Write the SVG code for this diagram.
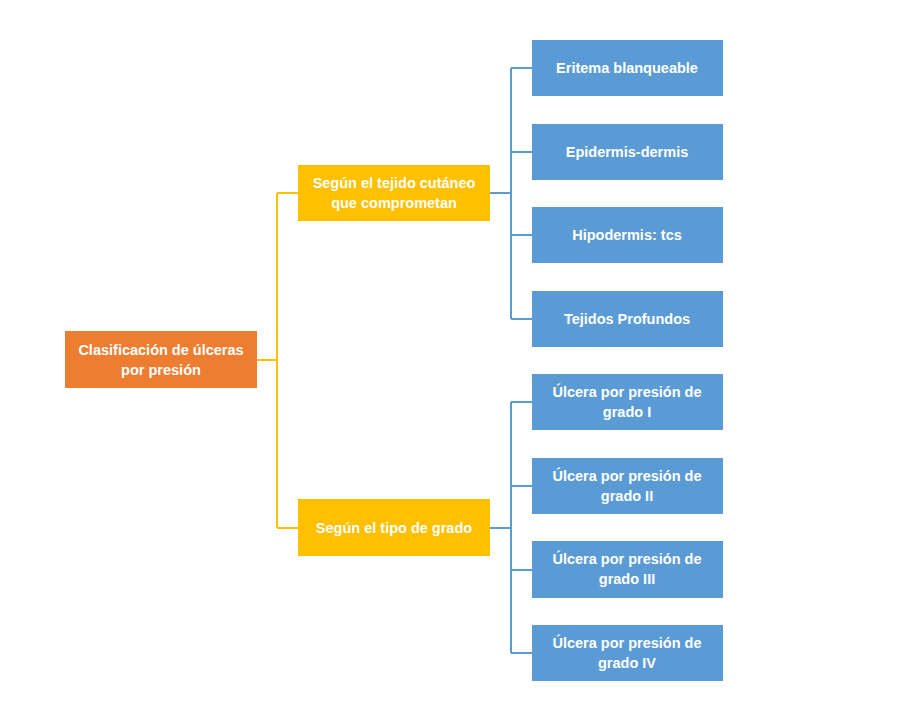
<svg xmlns="http://www.w3.org/2000/svg" width="902" height="718" viewBox="0 0 902 718">
<style>
text{font-family:"Liberation Sans",Arial,sans-serif;font-weight:bold;font-size:14.5px;fill:#fff;text-anchor:middle}
.leaf{fill:#5B9BD5}
.mid{fill:#FFC000}
.root{fill:#ED7D31}
.cy{stroke:#FFC000;stroke-width:2;fill:none}
.cb{stroke:#5B9BD5;stroke-width:2;fill:none}
</style>
<rect width="902" height="718" fill="#fff"/>
<g id="connectors">
<path class="cy" d="M257 360H277M277 193V528M277 193H298M277 528H298"/>
<path class="cb" d="M490 193H511M511 68V319M511 68H532M511 152H532M511 235H532M511 319H532"/>
<path class="cb" d="M490 528H511M511 402V653M511 402H532M511 486H532M511 570H532M511 653H532"/>
</g>
<g id="root"><rect class="root" x="65" y="331" width="192" height="57"/><text x="161" y="355">Clasificación de úlceras</text><text x="161" y="375">por presión</text></g>
<g id="m1"><rect class="mid" x="298" y="165" width="192" height="56"/><text x="394" y="188">Según el tejido cutáneo</text><text x="394" y="208">que comprometan</text></g>
<g id="m2"><rect class="mid" x="298" y="499" width="192" height="57"/><text x="394" y="533">Según el tipo de grado</text></g>
<g id="l1"><rect class="leaf" x="532" y="40" width="191" height="56"/><text x="627" y="73">Eritema blanqueable</text></g>
<g id="l2"><rect class="leaf" x="532" y="124" width="191" height="56"/><text x="627" y="157">Epidermis-dermis</text></g>
<g id="l3"><rect class="leaf" x="532" y="207" width="191" height="56"/><text x="627" y="240">Hipodermis: tcs</text></g>
<g id="l4"><rect class="leaf" x="532" y="291" width="191" height="56"/><text x="627" y="324">Tejidos Profundos</text></g>
<g id="l5"><rect class="leaf" x="532" y="374" width="191" height="56"/><text x="627" y="397">Úlcera por presión de</text><text x="627" y="417">grado I</text></g>
<g id="l6"><rect class="leaf" x="532" y="458" width="191" height="56"/><text x="627" y="481">Úlcera por presión de</text><text x="627" y="501">grado II</text></g>
<g id="l7"><rect class="leaf" x="532" y="541" width="191" height="57"/><text x="627" y="564">Úlcera por presión de</text><text x="627" y="584">grado III</text></g>
<g id="l8"><rect class="leaf" x="532" y="625" width="191" height="56"/><text x="627" y="648">Úlcera por presión de</text><text x="627" y="668">grado IV</text></g>
</svg>
